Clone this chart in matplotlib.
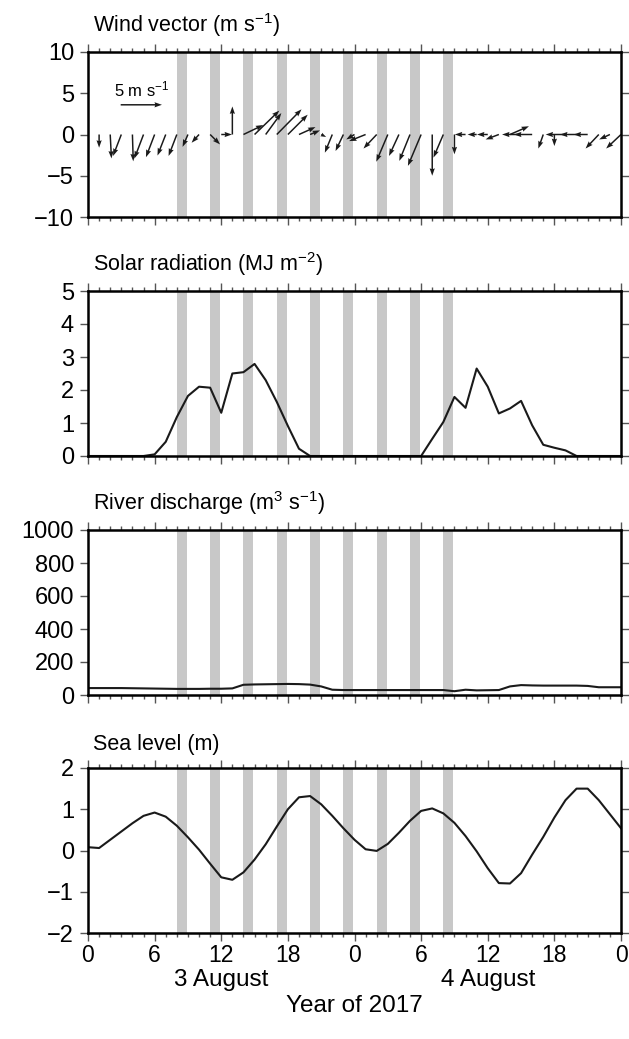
import numpy as np
import matplotlib
matplotlib.use("Agg")
import matplotlib.pyplot as plt
from matplotlib.ticker import MultipleLocator

plt.rcParams['font.family'] = ['Liberation Sans', 'DejaVu Sans']
plt.rcParams['mathtext.fontset'] = 'custom'
plt.rcParams['mathtext.rm'] = 'Liberation Sans'
plt.rcParams['mathtext.it'] = 'Liberation Sans'

# hours since 0:00 on 3 August 2017
hours = np.arange(0, 49)
wind_hours = np.arange(1, 49)

# wind components (m/s), hourly from 01:00
wind_u = [0, 0.15, -1.0, 0.1, -1.1, -1.05, -1.0, -1.0, -0.65, -0.9, 1.2, 1.3,
          0, 2.4, 3.0, 1.9, 3.0, 2.4, 2.0, 1.2, 0.6, -0.9, -0.95, -1.0,
          -2.0, -1.6, -1.4, -1.2, -1.3, -1.6, 0, -1.2, 0, -1.3, -1.1, -1.3,
          -1.6, 2.3, -2.3, -2.2, -0.6, 0, -2.4, -2.0, -1.7, -1.6, -1.3, -1.8]
wind_v = [-1.6, -2.9, -2.6, -3.25, -2.9, -2.75, -2.55, -2.6, -1.5, -1.0, -1.2, 0,
          3.4, 1.15, 2.9, 2.6, 3.05, 2.4, 0.9, 0.5, -0.3, -2.2, -2.0, -0.6,
          -0.8, -1.7, -3.3, -2.6, -3.2, -3.8, -5.0, -2.8, -2.4, 0, 0, 0,
          -0.6, 1.0, 0, 0, -1.7, -1.4, 0, 0, 0, -1.7, -0.6, -1.7]

# solar radiation (MJ m-2)
solar = [0, 0, 0, 0, 0, 0, 0.05, 0.43, 1.18, 1.82, 2.1, 2.07, 1.31, 2.5, 2.54,
         2.79, 2.3, 1.64, 0.91, 0.22, 0, 0, 0, 0, 0, 0, 0, 0, 0, 0, 0,
         0.52, 1.03, 1.79, 1.46, 2.65, 2.1, 1.29, 1.44, 1.67, 0.93, 0.34,
         0.25, 0.17, 0, 0, 0, 0, 0]

# river discharge (m3 s-1)
river = [42, 42, 42, 42, 41, 40, 39, 38, 37, 37, 37, 38, 38, 40, 62, 64, 65,
         66, 67, 66, 63, 52, 32, 30, 30, 30, 30, 30, 30, 30, 30, 30, 30, 23,
         32, 28, 29, 30, 52, 60, 58, 57, 57, 57, 57, 55, 47, 47, 47]

# sea level (m)
sea = [0.08, 0.06, 0.26, 0.46, 0.66, 0.84, 0.92, 0.82, 0.60, 0.32, 0.02,
       -0.32, -0.65, -0.71, -0.53, -0.22, 0.15, 0.58, 1.0, 1.29, 1.32, 1.12,
       0.84, 0.54, 0.26, 0.03, -0.01, 0.16, 0.43, 0.72, 0.96, 1.02, 0.90,
       0.67, 0.35, -0.02, -0.43, -0.79, -0.80, -0.55, -0.10, 0.33, 0.80,
       1.22, 1.50, 1.50, 1.22, 0.88, 0.54]

# grey bands (sampling times)
band_starts = [8, 11, 14, 17, 20, 23, 26, 29, 32]
band_width = 0.9

xtick_labels = ['0', '6', '12', '18', '0', '6', '12', '18', '0']

fig = plt.figure(figsize=(6.29, 10.39), dpi=100)
left = 88 / 629
width = 533 / 629
height = 165 / 1039
tops = [52, 291, 530, 768]
axes = [fig.add_axes([left, 1 - (t + 165) / 1039, width, height]) for t in tops]

titles = ['Wind vector (m s$^{-1}$)', 'Solar radiation (MJ m$^{-2}$)',
          'River discharge (m$^{3}$ s$^{-1}$)', 'Sea level (m)']
ylims = [(-10, 10), (0, 5), (0, 1000), (-2, 2)]
ysteps = [5, 1, 200, 1]

for ax, title, yl, ys in zip(axes, titles, ylims, ysteps):
    for b in band_starts:
        ax.axvspan(b, b + band_width, color='#c8c8c8', lw=0, zorder=0)
    ax.set_xlim(0, 48)
    ax.set_ylim(*yl)
    ax.yaxis.set_major_locator(MultipleLocator(ys))
    ax.xaxis.set_major_locator(MultipleLocator(6))
    ax.xaxis.set_minor_locator(MultipleLocator(1))
    ax.tick_params(which='both', direction='out', top=True, right=True,
                   width=1.0, color='#555555')
    ax.tick_params(axis='y', labelsize=17, pad=4)
    ax.tick_params(which='major', length=6)
    ax.tick_params(which='minor', length=3)
    ax.tick_params(axis='x', labelbottom=False)
    for s in ax.spines.values():
        s.set_linewidth(1.8)
    ax.text(0.01, 1.08, title, transform=ax.transAxes, fontsize=15.5,
            ha='left', va='bottom')

# wind vectors
ax = axes[0]
q = ax.quiver(wind_hours, np.zeros(len(wind_hours)), wind_u, wind_v,
              angles='uv', scale_units='y', scale=1, width=0.0028,
              headwidth=3.5, headlength=5, headaxislength=4.5, color='#1a1a1a')
ax.quiverkey(q, 4.8, 3.6, 5, '5 m s$^{-1}$', labelpos='N', coordinates='data',
             fontproperties={'size': 12}, labelsep=0.05)

axes[1].plot(hours, solar, color='#1a1a1a', lw=1.5)
axes[2].plot(hours, river, color='#1a1a1a', lw=1.5)
axes[3].plot(hours, sea, color='#1a1a1a', lw=1.5)

ax = axes[3]
ax.tick_params(axis='x', labelbottom=True, labelsize=16.5, pad=2)
ax.set_xticks(np.arange(0, 49, 6))
ax.set_xticklabels(xtick_labels)
ax.text(12, -0.285, '3 August', transform=ax.get_xaxis_transform(),
        ha='center', va='center', fontsize=17.5)
ax.text(36, -0.285, '4 August', transform=ax.get_xaxis_transform(),
        ha='center', va='center', fontsize=17.5)
ax.text(24, -0.44, 'Year of 2017', transform=ax.get_xaxis_transform(),
        ha='center', va='center', fontsize=17.5)

fig.savefig('out.png', dpi=100)
